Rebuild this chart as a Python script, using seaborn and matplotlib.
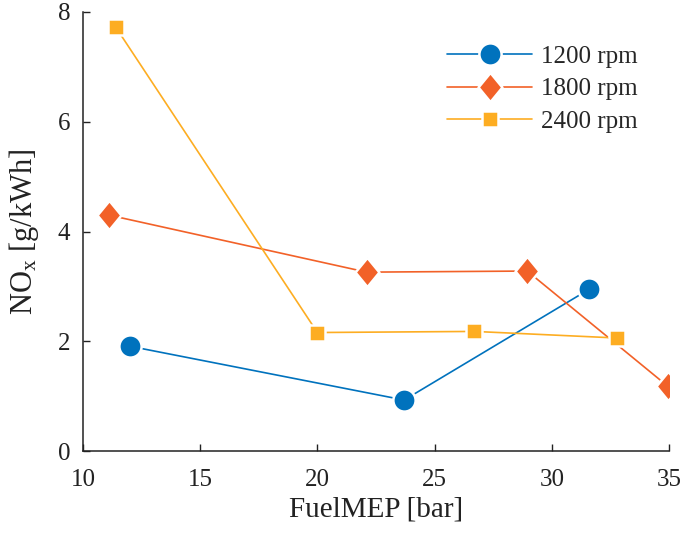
import matplotlib
matplotlib.use("Agg")
import matplotlib.pyplot as plt
import seaborn as sns
import pandas as pd

# Engine NOx emissions vs FuelMEP at three speeds
speeds = ["1200 rpm", "1800 rpm", "2400 rpm"]
fuelmep_1200 = [12.0, 23.7, 31.6]
nox_1200 = [1.91, 0.93, 2.95]
fuelmep_1800 = [11.1, 22.1, 28.95, 34.95]
nox_1800 = [4.30, 3.26, 3.28, 1.18]
fuelmep_2400 = [11.4, 20.0, 26.7, 32.8]
nox_2400 = [7.72, 2.16, 2.18, 2.06]

x_ticks = [10, 15, 20, 25, 30, 35]
y_ticks = [0, 2, 4, 6, 8]

sns.set_style("white")
plt.rcParams["font.family"] = ["Liberation Serif", "DejaVu Serif"]
plt.rcParams["mathtext.fontset"] = "custom"
plt.rcParams["mathtext.rm"] = "Liberation Serif"
plt.rcParams["mathtext.it"] = "Liberation Serif:italic"

fig = plt.figure(figsize=(6.82, 5.37), dpi=100)
ax = fig.add_axes([0.1217, 0.160, 0.8593, 0.8177])

# slightly narrow diamond
diamond = [(0, 1), (0.82, 0), (0, -1), (-0.82, 0), (0, 1)]

series = [
    (fuelmep_1200, nox_1200, speeds[0], "#0072BD", "o", 16),
    (fuelmep_1800, nox_1800, speeds[1], "#F26128", diamond, 21),
    (fuelmep_2400, nox_2400, speeds[2], "#FDAD22", "s", 12),
]
for xs, ys, lab, col, mk, ms in series:
    df = pd.DataFrame({"FuelMEP": xs, "NOx": ys})
    sns.lineplot(data=df, x="FuelMEP", y="NOx", ax=ax, color=col, marker=mk,
                 markersize=ms, markeredgecolor="white", markeredgewidth=1.8,
                 linewidth=1.2, label=lab, sort=False)

ax.set_xlim(10, 35)
ax.set_ylim(0, 8)
ax.set_xticks(x_ticks)
ax.set_yticks(y_ticks)
ax.tick_params(bottom=True, left=True, direction="in", length=5, width=1,
               color="#222222", labelsize=18, labelcolor="#222222", pad=9)
ax.tick_params(axis="x", pad=13)
for s in ["top", "right"]:
    ax.spines[s].set_visible(False)
for s in ["left", "bottom"]:
    ax.spines[s].set_color("#222222")
    ax.spines[s].set_linewidth(1.1)

ax.set_xlabel("FuelMEP [bar]", fontsize=21, color="#222222", labelpad=4)
ax.set_ylabel(r"NO$_{\mathrm{x}}$ [g/kWh]", fontsize=22, color="#222222", labelpad=12)

leg = ax.legend(loc="upper right", bbox_to_anchor=(0.985, 0.975), frameon=False,
                fontsize=18, handlelength=3.4, labelspacing=0.4, handletextpad=0.35)

fig.savefig("out.png", dpi=100)
